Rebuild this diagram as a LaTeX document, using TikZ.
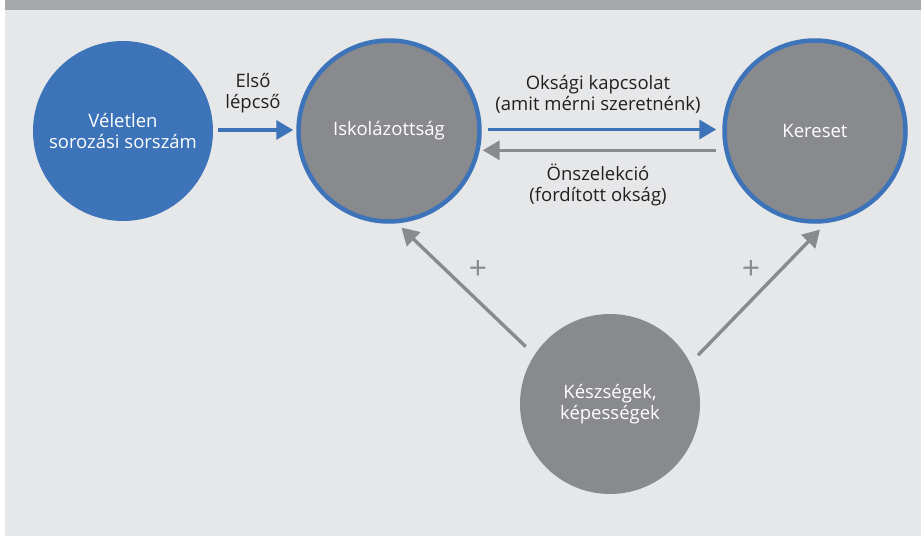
\documentclass[tikz,border=0pt]{standalone}
\usepackage{fontspec}
\setmainfont{Open Sans}
\usetikzlibrary{arrows.meta}
\definecolor{cblue}{HTML}{3C73B9}
\definecolor{cgray}{HTML}{898A8E}
\definecolor{cbg}{HTML}{E6E7E9}
\definecolor{cbar}{HTML}{A7A8AB}
\definecolor{ctext}{HTML}{231F20}
\tikzset{
  circtext/.style={inner sep=0pt, text=white, align=center, font=\fontsize{18.5}{21.5}\selectfont},
  bluecirc/.style={circle, fill=cblue, minimum size=180pt, circtext},
  graycirc/.style={circle, fill=cgray, draw=cblue, line width=4.5pt, minimum size=181pt, circtext},
  plaincirc/.style={circle, fill=cgray, minimum size=180pt, circtext},
  bluearrow/.style={draw=cblue, line width=3.4pt, -{Triangle[length=17pt,width=19pt]}},
  grayarrow/.style={draw=cgray, line width=3.4pt, -{Triangle[length=17pt,width=19pt]}},
  lbl/.style={text=ctext, align=center, font=\fontsize{18.5}{21}\selectfont, inner sep=0pt},
  plus/.style={text=cgray, font=\fontsize{32}{32}\selectfont, inner sep=0pt}
}
\begin{document}
\begin{tikzpicture}[x=1pt, y=-1pt]
\useasboundingbox (0,0) rectangle (921,536);
\fill[white] (0,0) rectangle (921,536);
\fill[cbg] (5,10) rectangle (921,536);
\fill[cbar] (5,0) rectangle (921,10);

\node[bluecirc] (v) at (123,131) {Véletlen\\sorozási sorszám};
\node[graycirc] (i) at (389,131) {Iskolázottság};
\node[graycirc] (k) at (815,131) {Kereset};
\node[plaincirc] (s) at (610,404) {Készségek,\\képességek};

\draw[bluearrow, shorten <=5pt, shorten >=3pt] ([yshift=1pt]v.east) -- ([yshift=1pt]i.west);
\draw[bluearrow, shorten <=6pt, shorten >=6pt] ([yshift=1.5pt]i.east) -- ([yshift=1.5pt]k.west);
\draw[grayarrow, shorten <=8pt, shorten >=3pt] (k.{180+12}) -- (i.{-12});
\draw[grayarrow, shorten <=12pt, shorten >=6pt] (s.147) -- (i.-85);
\draw[grayarrow, shorten <=11pt, shorten >=9pt] (s.27) -- (k.-83);

\node[lbl] (l1) at (253,93) {Első\\lépcső};
\node[lbl] (l2) at (598,94) {Oksági kapcsolat\\(amit mérni szeretnénk)};
\node[lbl] (l3) at (598,185) {Önszelekció\\(fordított okság)};
\node[plus] (p1) at (478,270) {+};
\node[plus] (p2) at (751,270) {+};
\end{tikzpicture}
\end{document}
